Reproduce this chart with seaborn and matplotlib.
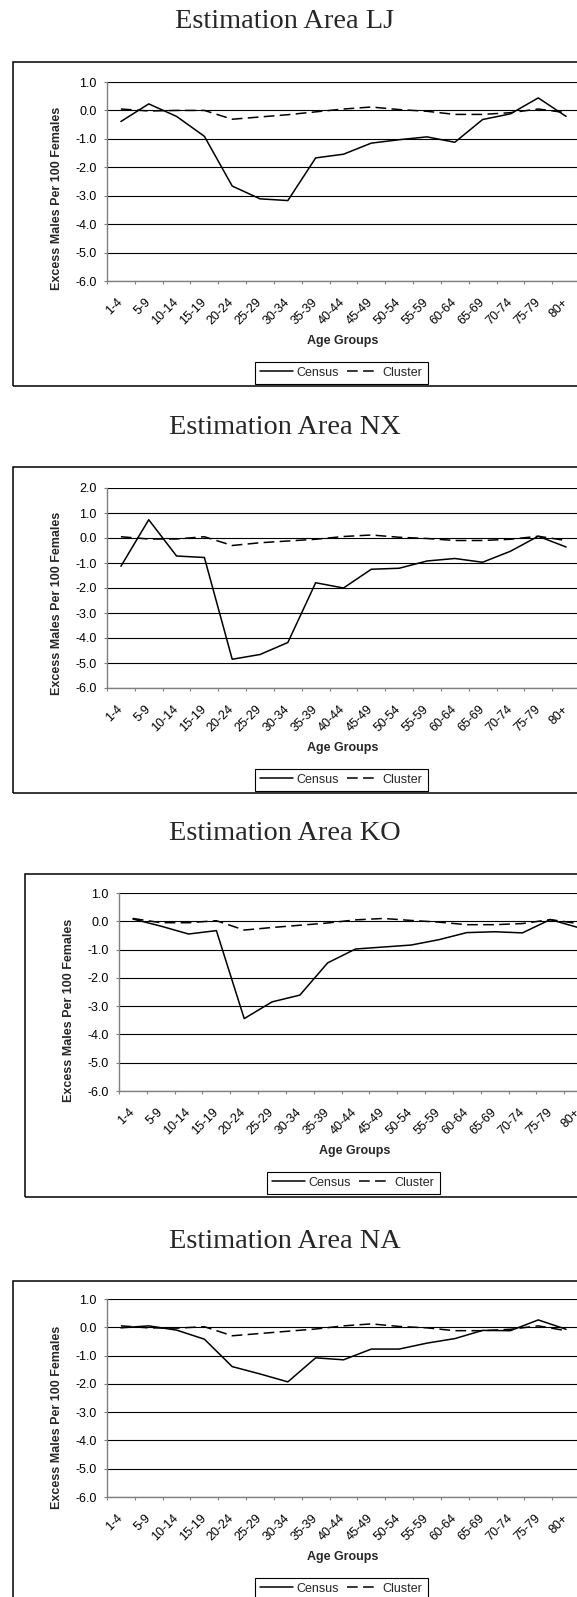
import numpy as np
import pandas as pd
import matplotlib
matplotlib.use('Agg')
import matplotlib.pyplot as plt
import seaborn as sns
from matplotlib.patches import Rectangle
from matplotlib.lines import Line2D
from matplotlib.transforms import ScaledTranslation

# data
age_groups = ['1-4', '5-9', '10-14', '15-19', '20-24', '25-29', '30-34', '35-39',
              '40-44', '45-49', '50-54', '55-59', '60-64', '65-69', '70-74', '75-79', '80+']

lj_census = [-0.39, 0.23, -0.21, -0.91, -2.66, -3.11, -3.17, -1.67, -1.54, -1.15,
             -1.03, -0.93, -1.12, -0.32, -0.12, 0.44, -0.21]
lj_cluster = [0.05, -0.02, 0.0, 0.0, -0.31, -0.23, -0.15, -0.05, 0.05, 0.12,
              0.03, -0.03, -0.14, -0.14, -0.08, 0.05, -0.08]

nx_census = [-1.13, 0.73, -0.72, -0.78, -4.85, -4.66, -4.18, -1.79, -2.0, -1.25,
             -1.21, -0.92, -0.82, -0.97, -0.53, 0.07, -0.36]
nx_cluster = [0.05, -0.04, -0.04, 0.05, -0.30, -0.19, -0.12, -0.05, 0.06, 0.12,
              0.03, -0.02, -0.10, -0.10, -0.05, 0.07, -0.10]

ko_census = [0.08, -0.17, -0.45, -0.33, -3.44, -2.85, -2.61, -1.47, -0.98, -0.91,
             -0.84, -0.65, -0.40, -0.37, -0.41, 0.06, -0.22]
ko_cluster = [0.10, -0.05, -0.05, 0.02, -0.31, -0.22, -0.14, -0.06, 0.05, 0.10,
              0.03, -0.03, -0.12, -0.12, -0.08, 0.06, -0.08]

na_census = [-0.02, 0.05, -0.10, -0.42, -1.39, -1.65, -1.93, -1.08, -1.15, -0.77,
             -0.77, -0.56, -0.40, -0.11, -0.12, 0.26, -0.07]
na_cluster = [0.05, -0.02, -0.03, 0.02, -0.30, -0.22, -0.14, -0.06, 0.05, 0.12,
              0.03, -0.02, -0.12, -0.12, -0.07, 0.05, -0.12]

titles = ['Estimation Area LJ', 'Estimation Area NX', 'Estimation Area KO', 'Estimation Area NA']
y_tops = [1.0, 2.0, 1.0, 1.0]

sns.set_style('white')
plt.rcParams['font.family'] = ['Liberation Sans', 'DejaVu Sans']
plt.rcParams['axes.unicode_minus'] = False

W, H = 577, 1597
fig = plt.figure(figsize=(W / 100, H / 100), dpi=100)


def fx(px):
    return px / W


def fy(py):
    return 1 - py / H


# pixel layout per panel: plot left, plot top, plot bottom, box left, box top, box bottom, title y
layout = [
    (107, 82, 281, 13, 62, 386, 22),
    (107, 488, 688, 13, 467, 793, 427),
    (119, 893, 1091, 25, 874, 1197, 834),
    (107, 1299, 1497, 13, 1281, 1800, 1241),
]
plot_w = 473
dash = (7, 3.5)

series = [(lj_census, lj_cluster), (nx_census, nx_cluster),
          (ko_census, ko_cluster), (na_census, na_cluster)]

for i, (census, cluster) in enumerate(series):
    left, top, bottom, bl, bt, bb, ty = layout[i]

    # outer chart border
    fig.patches.append(Rectangle((fx(bl), fy(bb)), fx(900), (bb - bt) / H,
                                 transform=fig.transFigure, fill=False,
                                 edgecolor='black', lw=1.1, zorder=0))

    fig.text(fx(285), fy(ty), titles[i], ha='center', va='center',
             family='Liberation Serif', fontsize=20.4)

    ax = fig.add_axes([fx(left), fy(bottom), plot_w / W, (bottom - top) / H])
    n = len(age_groups)
    df = pd.DataFrame({
        'pos': np.tile(np.arange(n) + 0.5, 2),
        'value': census + cluster,
        'series': ['Census'] * n + ['Cluster'] * n,
    })
    sns.lineplot(data=df, x='pos', y='value', style='series',
                 dashes={'Census': '', 'Cluster': dash}, color='black',
                 lw=1.1, legend=False, ax=ax)

    ytop = y_tops[i]
    ax.set_xlim(0, n)
    ax.set_ylim(-6, ytop)
    yt = np.arange(-6, ytop + 0.01, 1.0)
    ax.set_yticks(yt)
    ax.set_yticklabels([f'{v:.1f}' for v in yt])
    ax.set_xticks(np.arange(n + 1))
    ax.set_xticklabels([])
    ax.set_xticks(np.arange(n) + 0.5, minor=True)
    ax.set_xticklabels(age_groups, minor=True, rotation=45, ha='right',
                       va='center', rotation_mode='anchor')
    for lab in ax.get_xticklabels(minor=True):
        lab.set_transform(lab.get_transform() +
                          ScaledTranslation(-0.035, 0, fig.dpi_scale_trans))
    ax.tick_params(axis='x', which='major', length=2.4, width=0.8,
                   color='#808080', direction='out', bottom=True)
    ax.tick_params(axis='x', which='minor', length=0, pad=14, labelsize=9,
                   labelcolor='black', bottom=True)
    ax.tick_params(axis='y', length=2.4, width=0.8, color='#808080',
                   direction='out', pad=5, labelsize=9, labelcolor='black', left=True)
    ax.grid(axis='y', color='black', lw=0.8)
    ax.grid(axis='x', visible=False)
    ax.set_xlabel('')
    ax.set_ylabel('')
    for s in ['top', 'right']:
        ax.spines[s].set_visible(False)
    for s in ['left', 'bottom']:
        ax.spines[s].set_color('#808080')
        ax.spines[s].set_linewidth(1.0)

    fig.text(fx(left - 50), fy(bt + 136), 'Excess Males Per 100 Females',
             rotation=90, ha='center', va='center', fontsize=9, weight='bold')
    fig.text(fx(left + 236), fy(bottom + 60), 'Age Groups',
             ha='center', va='center', fontsize=9, weight='bold')

    handles = [Line2D([], [], color='black', lw=1.1),
               Line2D([], [], color='black', lw=1.1, dashes=dash)]
    leg = fig.legend(handles, ['Census', 'Cluster'], loc='center',
                     bbox_to_anchor=(fx(left + 234.5), fy(bottom + 91.5)),
                     ncol=2, frameon=True, fancybox=False, edgecolor='black',
                     framealpha=1, fontsize=9, handlelength=2.6,
                     handletextpad=0.3, columnspacing=0.6, borderpad=0.4)
    leg.get_frame().set_linewidth(0.8)

fig.savefig('out.png', dpi=100)
